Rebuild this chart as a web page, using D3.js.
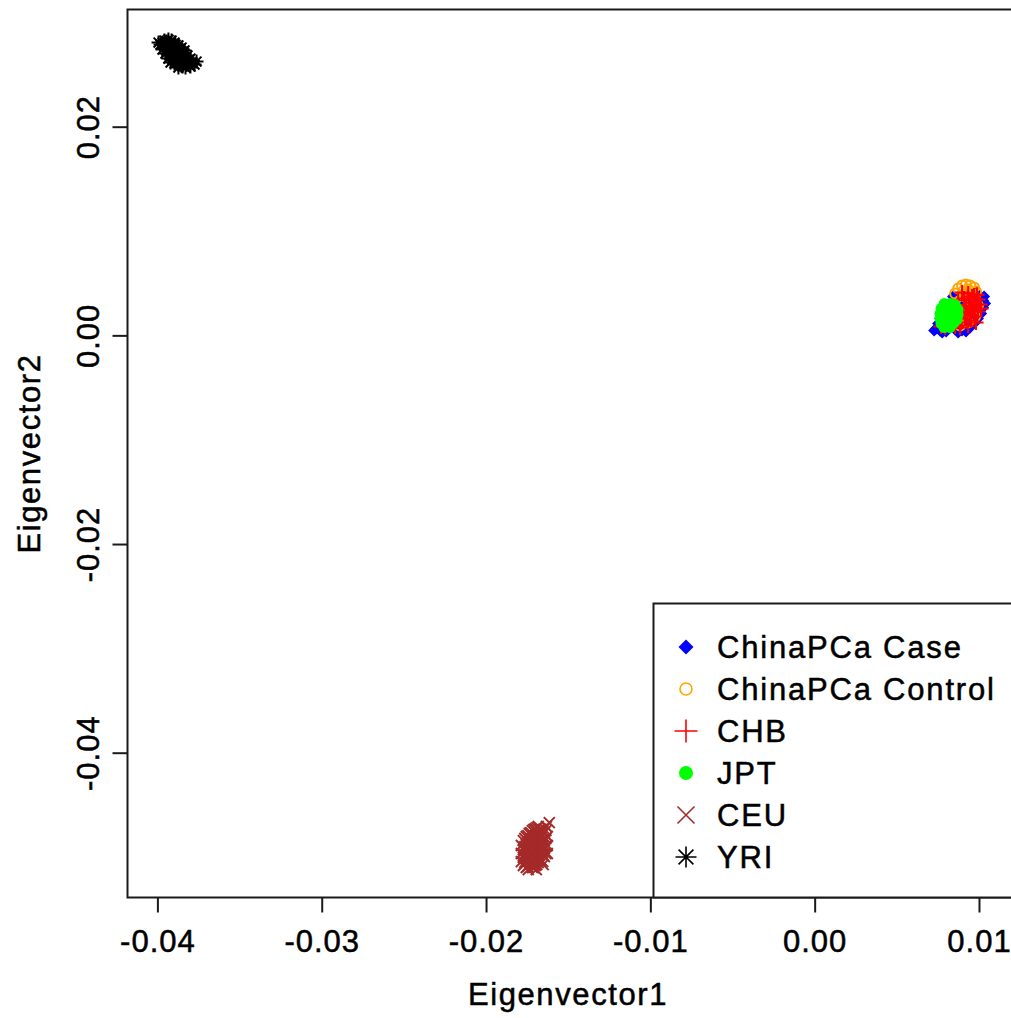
<!DOCTYPE html>
<html><head><meta charset="utf-8">
<script src="https://cdn.jsdelivr.net/npm/d3@7"></script>
<style>html,body{margin:0;padding:0;background:#fff;overflow:hidden}</style>
</head><body>
<svg id="c" width="1011" height="1018"></svg>
<script>
// ---- data (Eigenvector1, Eigenvector2) ----
const groups = ["ChinaPCa Case","ChinaPCa Control","CHB","JPT","CEU","YRI"];
const xTicks = [-0.04,-0.03,-0.02,-0.01,0.00,0.01];
const yTicks = [-0.04,-0.02,0.00,0.02];
const xTickLabels = ["-0.04","-0.03","-0.02","-0.01","0.00","0.01"];
const yTickLabels = ["-0.04","-0.02","0.00","0.02"];

const caseData = [
[0.00736,0.00070],[0.00760,0.00051],[0.00748,0.00118],[0.00785,0.00089],[0.00797,0.00041],[0.00821,0.00080],
[0.00809,0.00147],[0.00852,0.00060],[0.00870,0.00032],[0.00894,0.00051],[0.00918,0.00041],[0.00912,0.00099],
[0.00943,0.00080],[0.00973,0.00127],[0.00991,0.00166],[0.01010,0.00214],[0.01022,0.00271],[0.01022,0.00338],
[0.01004,0.00300],[0.00991,0.00358],[0.00973,0.00290],[0.00955,0.00223],[0.00931,0.00166],[0.00882,0.00147],
[0.00852,0.00195],[0.00821,0.00242],[0.00791,0.00195],[0.00760,0.00166],[0.00900,0.00290],[0.00943,0.00338],
[0.00839,0.00338],[0.00870,0.00377],[0.00925,0.00386],[0.00979,0.00415],[0.01028,0.00377],[0.01004,0.00242],
[0.01034,0.00310],[0.00773,0.00032],[0.00724,0.00051],[0.00839,0.00377]
];
const controlData = [
[0.00870,0.00453],[0.00894,0.00482],[0.00918,0.00492],[0.00943,0.00482],[0.00967,0.00463],[0.00979,0.00425],
[0.00931,0.00444],[0.00900,0.00425],[0.00852,0.00405],[0.00955,0.00405],[0.00912,0.00377],[0.00882,0.00338],
[0.00943,0.00338],[0.00973,0.00358],[0.00821,0.00290],[0.00858,0.00242],[0.00906,0.00223],[0.00955,0.00242],
[0.00991,0.00290],[0.00791,0.00147],[0.00833,0.00127],[0.00882,0.00099],[0.00931,0.00127],[0.00973,0.00185]
];
const chbData = [
[0.00894,0.00415],[0.00931,0.00405],[0.00967,0.00386],[0.00991,0.00348],[0.01004,0.00300],[0.00979,0.00300],
[0.00943,0.00348],[0.00906,0.00358],[0.00870,0.00338],[0.00918,0.00290],[0.00955,0.00262],[0.00991,0.00233],
[0.00973,0.00185],[0.00943,0.00204],[0.00900,0.00233],[0.00870,0.00271],[0.00912,0.00166],[0.00949,0.00147],
[0.00979,0.00127],[0.00931,0.00099],[0.00888,0.00127],[0.00882,0.00080],[0.00852,0.00089],[0.00821,0.00108],
[0.00791,0.00080],[0.00766,0.00089],[0.00858,0.00166],[0.01010,0.00262],[0.00961,0.00320],[0.00925,0.00223],
[0.00955,0.00377],[0.00985,0.00395],[0.00937,0.00252],[0.00967,0.00233]
];
const jptData = [
[0.00785,0.00310],[0.00821,0.00310],[0.00852,0.00300],[0.00766,0.00262],[0.00803,0.00262],[0.00839,0.00262],
[0.00870,0.00252],[0.00760,0.00214],[0.00797,0.00214],[0.00833,0.00214],[0.00870,0.00204],[0.00760,0.00166],
[0.00797,0.00166],[0.00833,0.00166],[0.00864,0.00156],[0.00766,0.00118],[0.00803,0.00118],[0.00839,0.00118],
[0.00785,0.00080],[0.00821,0.00080],[0.00815,0.00290],[0.00852,0.00185],[0.00779,0.00185],[0.00815,0.00147]
];
const ceuData = [
[-0.01788,-0.04885],[-0.01788,-0.04962],[-0.01788,-0.05039],[-0.01776,-0.04838],[-0.01776,-0.04924],[-0.01776,-0.05000],
[-0.01776,-0.05077],[-0.01758,-0.04799],[-0.01758,-0.04876],[-0.01758,-0.04953],[-0.01758,-0.05029],[-0.01758,-0.05096],
[-0.01740,-0.04770],[-0.01740,-0.04847],[-0.01740,-0.04914],[-0.01740,-0.04991],[-0.01740,-0.05068],[-0.01721,-0.04742],
[-0.01721,-0.04818],[-0.01721,-0.04885],[-0.01721,-0.04962],[-0.01721,-0.05039],[-0.01721,-0.05096],[-0.01703,-0.04723],
[-0.01703,-0.04790],[-0.01703,-0.04866],[-0.01703,-0.04933],[-0.01703,-0.05010],[-0.01703,-0.05077],[-0.01685,-0.04703],
[-0.01685,-0.04770],[-0.01685,-0.04838],[-0.01685,-0.04914],[-0.01685,-0.04981],[-0.01685,-0.05048],[-0.01667,-0.04732],
[-0.01667,-0.04809],[-0.01667,-0.04885],[-0.01667,-0.04953],[-0.01667,-0.05029],[-0.01648,-0.04761],[-0.01648,-0.04838],
[-0.01648,-0.04914],[-0.01648,-0.04991],[-0.01636,-0.04703],[-0.01630,-0.04799],[-0.01630,-0.04885],[-0.01630,-0.04962],
[-0.01618,-0.04665],[-0.01697,-0.05116],[-0.01746,-0.05116],[-0.01655,-0.05068],
[-0.01767,-0.04818],[-0.01767,-0.04895],[-0.01767,-0.04972],[-0.01767,-0.05048],
[-0.01749,-0.04790],[-0.01749,-0.04857],[-0.01749,-0.04933],[-0.01749,-0.05010],[-0.01749,-0.05087],
[-0.01731,-0.04761],[-0.01731,-0.04828],[-0.01731,-0.04904],[-0.01731,-0.04981],[-0.01731,-0.05058],
[-0.01712,-0.04732],[-0.01712,-0.04799],[-0.01712,-0.04876],[-0.01712,-0.04953],[-0.01712,-0.05029],[-0.01712,-0.05096],
[-0.01694,-0.04713],[-0.01694,-0.04780],[-0.01694,-0.04847],[-0.01694,-0.04924],[-0.01694,-0.05000],[-0.01694,-0.05068],
[-0.01676,-0.04723],[-0.01676,-0.04790],[-0.01676,-0.04866],[-0.01676,-0.04933],[-0.01676,-0.05010],
[-0.01658,-0.04751],[-0.01658,-0.04828],[-0.01658,-0.04895],[-0.01658,-0.04972],[-0.01658,-0.05039],
[-0.01639,-0.04742],[-0.01639,-0.04818],[-0.01639,-0.04895],[-0.01639,-0.04962]
];
const yriData = [
[-0.03972,0.02811],[-0.03960,0.02773],[-0.03948,0.02821],[-0.03942,0.02792],[-0.03936,0.02754],[-0.03923,0.02802],
[-0.03923,0.02725],[-0.03911,0.02773],[-0.03911,0.02696],[-0.03899,0.02744],[-0.03893,0.02792],[-0.03887,0.02716],
[-0.03881,0.02668],[-0.03875,0.02754],[-0.03869,0.02696],[-0.03862,0.02639],[-0.03856,0.02725],[-0.03850,0.02677],
[-0.03844,0.02620],[-0.03838,0.02706],[-0.03832,0.02658],[-0.03826,0.02610],[-0.03820,0.02639],[-0.03814,0.02601],
[-0.03948,0.02735],[-0.03929,0.02687],[-0.03905,0.02658],[-0.03887,0.02629],[-0.03869,0.02601],[-0.03850,0.02581],
[-0.03960,0.02830],[-0.03936,0.02840],[-0.03917,0.02830],[-0.03899,0.02811],[-0.03875,0.02783],[-0.03856,0.02763],
[-0.03838,0.02735],[-0.03820,0.02687],[-0.03802,0.02658],[-0.03790,0.02620],[-0.03777,0.02601],[-0.03984,0.02792],
[-0.03972,0.02744],[-0.03954,0.02706],[-0.03936,0.02658],[-0.03899,0.02610],[-0.03875,0.02572],[-0.03832,0.02572],
[-0.03911,0.02735],[-0.03887,0.02687],[-0.03862,0.02658],[-0.03929,0.02763],[-0.03844,0.02639],[-0.03765,0.02629],
[-0.03996,0.02811],[-0.03802,0.02581],[-0.03923,0.02620],
[-0.03948,0.02783],[-0.03917,0.02754],[-0.03893,0.02735],[-0.03875,0.02716],[-0.03856,0.02687],[-0.03838,0.02668],
[-0.03899,0.02677],[-0.03923,0.02706],[-0.03881,0.02629],[-0.03966,0.02792]
];

// ---- layout ----
const svg = d3.select("#c");
const L = 127.5, R = 1013, T = 9.5, B = 897.5;
const x = d3.scaleLinear().domain([-0.04185, 0.01204]).range([L, R]);
const y = d3.scaleLinear().domain([-0.05383, 0.03128]).range([B, T]);
const font = "'Liberation Sans', Arial, Helvetica, sans-serif";

// symbol path generators (R pch shapes)
const shapes = {
  diamond: r => `M0,${-r}L${r},0L0,${r}L${-r},0Z`,
  plus: r => `M${-r},0H${r}M0,${-r}V${r}`,
  cross: r => `M${-r},${-r}L${r},${r}M${-r},${r}L${r},${-r}`,
  star: r => { const d = r*0.7071; return `M${-r},0H${r}M0,${-r}V${r}M${-d},${-d}L${d},${d}M${-d},${d}L${d},${-d}`; }
};
const styles = [
  {data: caseData,    kind: "diamond", col: "#0000FF", ps: 6,   ls: 7.5},
  {data: controlData, kind: "circleO", col: "#FFA500", ps: 5,   ls: 6},
  {data: chbData,     kind: "plus",    col: "#FF0000", ps: 7.5, ls: 11.5},
  {data: jptData,     kind: "circleF", col: "#00FF00", ps: 5.5, ls: 7},
  {data: ceuData,     kind: "cross",   col: "#A52A2A", ps: 5.5, ls: 8.5},
  {data: yriData,     kind: "star",    col: "#000000", ps: 7,   ls: 10.5}
];

function drawSym(g, s, r, sw) {
  if (s.kind === "circleO") {
    g.append("circle").attr("r", r).attr("fill", "none").attr("stroke", s.col).attr("stroke-width", sw);
  } else if (s.kind === "circleF") {
    g.append("circle").attr("r", r).attr("fill", s.col);
  } else if (s.kind === "diamond") {
    g.append("path").attr("d", shapes.diamond(r)).attr("fill", s.col);
  } else {
    g.append("path").attr("d", shapes[s.kind](r)).attr("fill", "none").attr("stroke", s.col).attr("stroke-width", sw);
  }
}

const plot = svg.append("g");
styles.forEach(s => {
  s.data.forEach(d => {
    const g = plot.append("g").attr("transform", `translate(${x(d[0])},${y(d[1])})`);
    drawSym(g, s, s.ps, 2);
  });
});

// ---- axes (R style, box) ----
const ax = svg.append("g").attr("stroke", "#1a1a1a").attr("stroke-width", 2).attr("fill", "none");
ax.append("path").attr("d", `M${R},${T}H${L}V${B}H${R}`);
xTicks.forEach(t => ax.append("line").attr("x1", x(t)).attr("x2", x(t)).attr("y1", B).attr("y2", B + 15));
yTicks.forEach(t => ax.append("line").attr("y1", y(t)).attr("y2", y(t)).attr("x1", L).attr("x2", L - 15));

const txt = svg.append("g").attr("font-family", font).attr("font-size", 31).attr("fill", "#000")
  .attr("stroke", "#000").attr("stroke-width", 0.5);
xTicks.forEach((t, i) => txt.append("text").attr("x", x(t)).attr("y", 952).attr("text-anchor", "middle")
  .attr("letter-spacing", "1px").text(xTickLabels[i]));
yTicks.forEach((t, i) => txt.append("text").attr("transform", `translate(99,${y(t)}) rotate(-90)`)
  .attr("text-anchor", "middle").attr("letter-spacing", "1px").text(yTickLabels[i]));
txt.append("text").attr("x", 568).attr("y", 1005).attr("text-anchor", "middle").attr("letter-spacing", "1.6px").text("Eigenvector1");
txt.append("text").attr("transform", `translate(40,${(T + B) / 2}) rotate(-90)`).attr("text-anchor", "middle")
  .attr("letter-spacing", "1.6px").text("Eigenvector2");

// ---- legend ----
const lg = svg.append("g");
lg.append("rect").attr("x", 653.5).attr("y", 603.5).attr("width", 400).attr("height", B - 603.5)
  .attr("fill", "#fff").attr("stroke", "#1a1a1a").attr("stroke-width", 2);
styles.forEach((s, i) => {
  const cy = 647 + i * 42;
  const g = lg.append("g").attr("transform", `translate(686,${cy})`);
  drawSym(g, s, s.ls, 1.6);
  lg.append("text").attr("x", 717).attr("y", cy + 11).attr("font-family", font).attr("font-size", 31)
    .attr("stroke", "#000").attr("stroke-width", 0.5)
    .attr("letter-spacing", "1.8px").text(groups[i]);
});
</script>
</body></html>
